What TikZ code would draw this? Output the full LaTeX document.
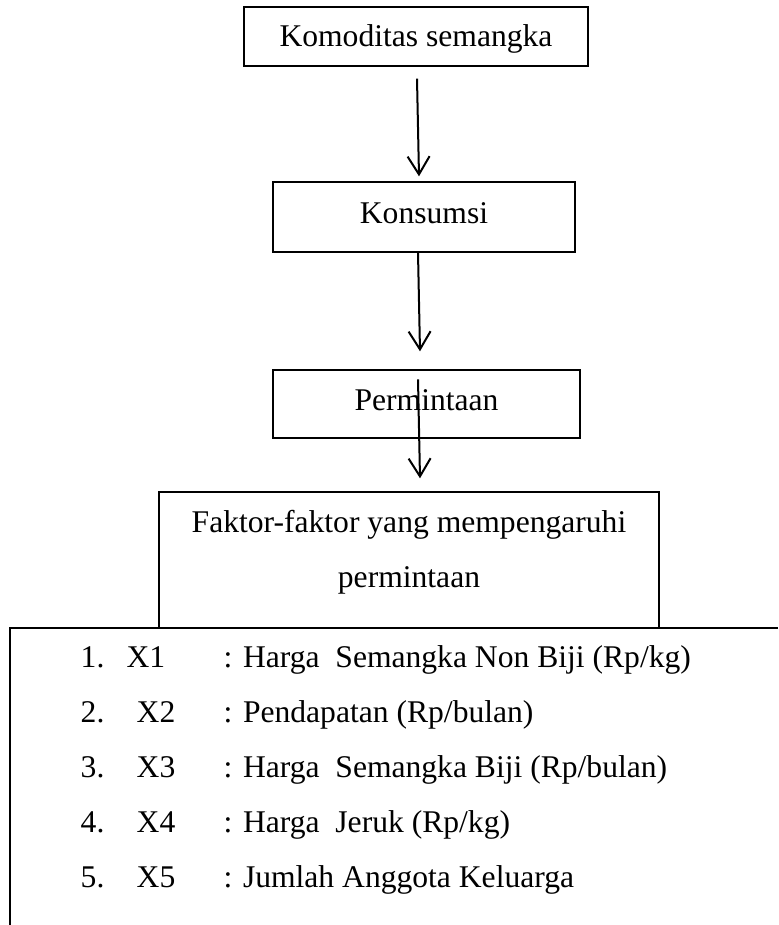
\documentclass[tikz,border=0pt]{standalone}
\usepackage{fontspec}
\setmainfont{Liberation Serif}
\usetikzlibrary{arrows.meta}

\begin{document}
\begin{tikzpicture}[x=0.5pt, y=-0.5pt, line width=0.7pt,
    every node/.style={font=\fontsize{15.8pt}{27.5pt}\selectfont},
    flow box/.style={draw, rectangle, inner sep=0pt, text height=11pt, text depth=0.5pt},
    flow arrow/.style={line width=1pt, -{Straight Barb[length=9pt, width=11pt]}},
    factor item/.style={anchor=base west, inner sep=0pt}
  ]
  \def\numwidth{28pt}
  \def\varwidth{43.5pt}
  \useasboundingbox (0,0) rectangle (778,925);

  \node (komoditas) [flow box, minimum width=172pt, minimum height=29.5pt] at (416,36.5) {Komoditas semangka};
  \node (konsumsi) [flow box, text depth=5pt, minimum width=151pt, minimum height=35pt] at (424,217) {Konsumsi};
  \node (permintaan) [flow box, text depth=5pt, minimum width=153.5pt, minimum height=34pt] at (426.5,404) {Permintaan};
  \node (faktor) [draw, rectangle, minimum width=250pt, minimum height=68pt] at (409,560) {};
  \node (faktortop) [anchor=base] at (409,532) {Faktor-faktor yang mempengaruhi};
  \node (faktorbottom) [anchor=base] at (409,587) {permintaan};

  \draw [flow arrow] ([xshift=0.5pt, yshift=-6pt]komoditas.south) -- ([xshift=-2.5pt, yshift=2.5pt]konsumsi.north);
  \draw [flow arrow] ([xshift=-3pt]konsumsi.south) -- ([xshift=-3.25pt, yshift=9pt]permintaan.north);
  \draw [flow arrow] ([xshift=-4.25pt, yshift=-5pt]permintaan.north) -- ([xshift=5.5pt, yshift=6.5pt]faktor.north);

  % list of factors
  \coordinate (listleft) at (10,925);
  \coordinate (listright) at (778,628);
  \draw (listleft) |- (listright);
  \node (item1) [factor item] at (80,667) {\makebox[23pt][l]{1.}\makebox[48.5pt][l]{X1}: Harga\ \ Semangka Non Biji (Rp/kg)};
  \node (item2) [factor item] at (80,722) {\makebox[\numwidth][l]{2.}\makebox[\varwidth][l]{X2}: Pendapatan (Rp/bulan)};
  \node (item3) [factor item] at (80,777) {\makebox[\numwidth][l]{3.}\makebox[\varwidth][l]{X3}: Harga\ \ Semangka Biji (Rp/bulan)};
  \node (item4) [factor item] at (80,832) {\makebox[\numwidth][l]{4.}\makebox[\varwidth][l]{X4}: Harga\ \ Jeruk (Rp/kg)};
  \node (item5) [factor item] at (80,887) {\makebox[\numwidth][l]{5.}\makebox[\varwidth][l]{X5}: Jumlah Anggota Keluarga};
\end{tikzpicture}
\end{document}
